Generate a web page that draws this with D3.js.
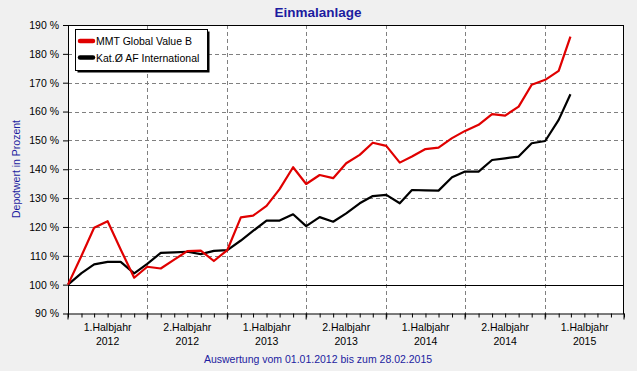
<!DOCTYPE html>
<html>
<head>
<meta charset="utf-8">
<script src="https://cdn.jsdelivr.net/npm/d3@7"></script>
<style>
  html, body { margin: 0; padding: 0; background: #f0f0f0; }
  svg { display: block; font-family: "Liberation Sans", Arial, sans-serif; }
</style>
</head>
<body>
<svg id="chart" width="637" height="371"></svg>
<script>
// *** Data ***

var dates = [
  "2012-01-01", "2012-02-01", "2012-03-01", "2012-04-01", "2012-05-01", "2012-06-01",
  "2012-07-01", "2012-08-01", "2012-09-01", "2012-10-01", "2012-11-01", "2012-12-01",
  "2013-01-01", "2013-02-01", "2013-03-01", "2013-04-01", "2013-05-01", "2013-06-01",
  "2013-07-01", "2013-08-01", "2013-09-01", "2013-10-01", "2013-11-01", "2013-12-01",
  "2014-01-01", "2014-02-01", "2014-03-01", "2014-04-01", "2014-05-01", "2014-06-01",
  "2014-07-01", "2014-08-01", "2014-09-01", "2014-10-01", "2014-11-01", "2014-12-01",
  "2015-01-01", "2015-02-01", "2015-02-28"
];

// MMT Global Value B
var fundValues = [
  100, 110, 119.7, 122, 112.2, 102.4, 106.2, 105.6, 108.7, 111.6, 111.8, 108.2,
  112, 123.3, 123.9, 127.3, 133.1, 140.7, 134.9, 138.0, 136.9, 142.1, 145.0, 149.2,
  148.1, 142.3, 144.4, 147.0, 147.5, 150.8, 153.3, 155.4, 159.1, 158.6, 161.7, 169.3,
  171.0, 174.1, 186.0
];

// Kat.Ø AF International
var categoryValues = [
  100, 104, 107.0, 107.9, 107.9, 103.9, 107.2, 111.0, 111.2, 111.4, 110.6, 111.7,
  112, 115.3, 118.6, 122.2, 122.2, 124.4, 120.3, 123.4, 121.8, 124.7, 128.2, 130.7,
  131.1, 128.2, 132.8, 132.7, 132.6, 137.2, 139.2, 139.2, 143.2, 143.8, 144.4, 149.0,
  149.8, 157.1, 166.0
];

var seriesNames = ["MMT Global Value B", "Kat.\u00d8 AF International"];
var seriesColors = ["#e00000", "#000000"];

var yTicks = [90, 100, 110, 120, 130, 140, 150, 160, 170, 180, 190];
var halfYearLabels = [
  ["1.Halbjahr", "2012"], ["2.Halbjahr", "2012"],
  ["1.Halbjahr", "2013"], ["2.Halbjahr", "2013"],
  ["1.Halbjahr", "2014"], ["2.Halbjahr", "2014"],
  ["1.Halbjahr", "2015"]
];

var titleText = "Einmalanlage";
var yTitleText = "Depotwert in Prozent";
var footerText = "Auswertung vom 01.01.2012 bis zum 28.02.2015";

// *** Chart building ***

var parse = d3.timeParse("%Y-%m-%d");
var blue = "#1c1ca0";

var svg = d3.select("#chart");

var margin = {top: 25, right: 13, bottom: 57.5, left: 68},
    width = 637 - margin.left - margin.right,
    height = 371 - margin.top - margin.bottom;

var x = d3.scaleTime()
    .domain([parse("2012-01-01"), parse("2015-07-01")])
    .range([0, width]);

var y = d3.scaleLinear().domain([90, 190]).range([height, 0]);

svg.append("text")
    .attr("x", 318).attr("y", 17)
    .attr("text-anchor", "middle")
    .attr("font-size", "13.5px").attr("font-weight", "bold")
    .attr("fill", blue)
    .text(titleText);

svg.append("text")
    .attr("transform", "translate(20,169) rotate(-90)")
    .attr("text-anchor", "middle")
    .attr("font-size", "10.5px")
    .attr("fill", blue)
    .text(yTitleText);

svg.append("text")
    .attr("x", 318).attr("y", 363)
    .attr("text-anchor", "middle")
    .attr("font-size", "10.5px")
    .attr("fill", blue)
    .text(footerText);

var chart = svg.append("g")
    .attr("transform", "translate(" + margin.left + "," + margin.top + ")");

chart.append("rect")
    .attr("width", width).attr("height", height)
    .attr("fill", "#fff");

// grid lines
chart.append("g").selectAll("line")
    .data(yTicks.filter(d => d !== 90 && d !== 190 && d !== 100))
    .enter().append("line")
    .attr("x1", 0).attr("x2", width)
    .attr("y1", d => Math.round(y(d)) + 0.5).attr("y2", d => Math.round(y(d)) + 0.5)
    .attr("stroke", "#808080").attr("stroke-dasharray", "4,3");

var halfYears = d3.timeMonth.every(6).range(parse("2012-01-01"), parse("2015-07-02"));

chart.append("g").selectAll("line")
    .data(halfYears.slice(1, -1))
    .enter().append("line")
    .attr("x1", d => Math.round(x(d)) + 0.5).attr("x2", d => Math.round(x(d)) + 0.5)
    .attr("y1", 0).attr("y2", height)
    .attr("stroke", "#808080").attr("stroke-dasharray", "4,3");

// 100 % line
chart.append("line")
    .attr("x1", 0).attr("x2", width)
    .attr("y1", Math.round(y(100)) + 0.5).attr("y2", Math.round(y(100)) + 0.5)
    .attr("stroke", "#000");

// y axis
var yAxis = d3.axisLeft(y)
    .tickValues(yTicks)
    .tickSize(5)
    .tickPadding(4)
    .tickFormat(d => d + " %");

chart.append("g").call(yAxis)
    .call(g => g.select(".domain").remove())
    .call(g => g.selectAll("text").attr("font-size", "10.5px").attr("font-family", "Liberation Sans, Arial, sans-serif").attr("fill", "#000"));

// x axis monthly ticks
var months = d3.timeMonth.range(parse("2012-01-01"), parse("2015-07-02"));
var xAxis = d3.axisBottom(x)
    .tickValues(months)
    .tickSize(4)
    .tickFormat("");

chart.append("g")
    .attr("transform", "translate(0," + height + ")")
    .call(xAxis)
    .call(g => g.select(".domain").remove());

chart.append("g").selectAll("line")
    .data(halfYears)
    .enter().append("line")
    .attr("x1", d => x(d)).attr("x2", d => x(d))
    .attr("y1", height).attr("y2", height + 6)
    .attr("stroke", "#000");

var labelG = chart.append("g")
    .attr("font-size", "10.5px")
    .attr("text-anchor", "middle");

halfYearLabels.forEach(function (lab, i) {
    var cx = (x(halfYears[i]) + x(halfYears[i + 1])) / 2;
    labelG.append("text").attr("x", cx).attr("y", height + 17).text(lab[0]);
    labelG.append("text").attr("x", cx).attr("y", height + 31).text(lab[1]);
});

// plot border
chart.append("rect")
    .attr("x", 0.5).attr("y", 0.5)
    .attr("width", width - 1).attr("height", height)
    .attr("fill", "none").attr("stroke", "#000");

// series lines
var lineMaker = d3.line()
    .x((d, i) => x(parse(dates[i])))
    .y(d => y(d));

[categoryValues, fundValues].forEach(function (vals, k) {
    chart.append("path")
        .attr("d", lineMaker(vals))
        .attr("fill", "none")
        .attr("stroke", k === 0 ? seriesColors[1] : seriesColors[0])
        .attr("stroke-width", 2.2)
        .attr("stroke-linejoin", "round");
});

// legend
var legend = svg.append("g").attr("transform", "translate(75,29)");
legend.append("rect")
    .attr("x", 2.5).attr("y", 2.5).attr("width", 132).attr("height", 41)
    .attr("fill", "#000");
legend.append("rect")
    .attr("x", 0.5).attr("y", 0.5).attr("width", 132).attr("height", 41)
    .attr("fill", "#fff").attr("stroke", "#000");

seriesNames.forEach(function (name, i) {
    var ly = 12 + i * 16.5;
    legend.append("line")
        .attr("x1", 5).attr("x2", 18)
        .attr("y1", ly).attr("y2", ly)
        .attr("stroke", seriesColors[i]).attr("stroke-width", 4.5)
        .attr("stroke-linecap", "round");
    legend.append("text")
        .attr("x", 21).attr("y", ly + 4)
        .attr("font-size", "10.5px")
        .text(name);
});
</script>
</body>
</html>
